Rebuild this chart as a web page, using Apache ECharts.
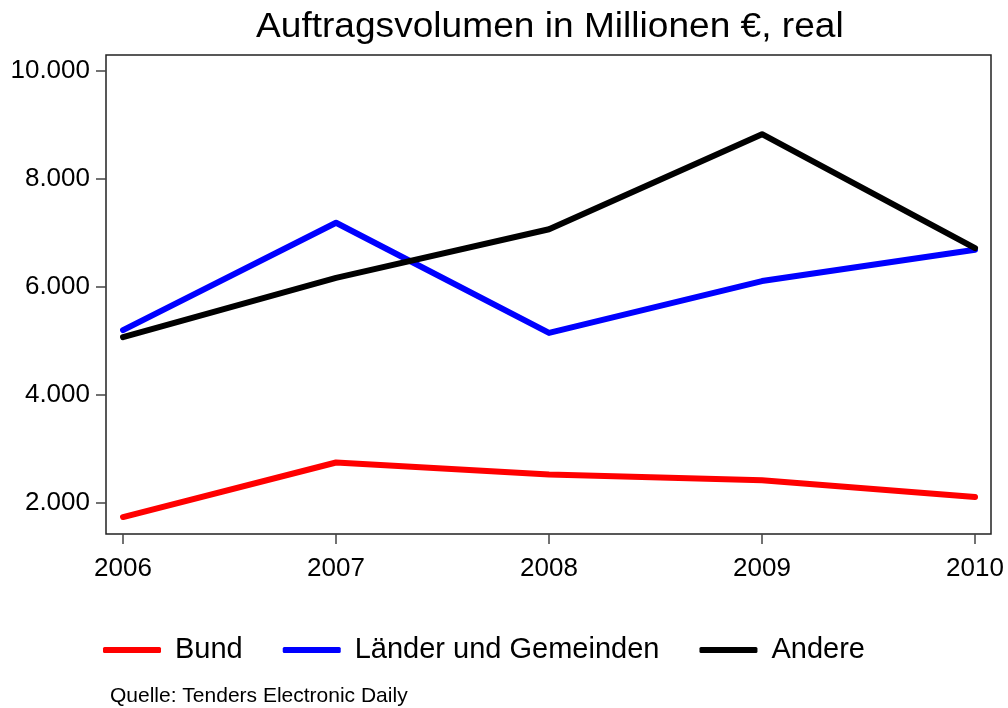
<!DOCTYPE html>
<html>
<head>
<meta charset="utf-8">
<title>Auftragsvolumen</title>
<script src="https://cdn.jsdelivr.net/npm/echarts@6/dist/echarts.min.js"></script>
<style>
	html, body { margin: 0; padding: 0; background: #fff; }
	#chart { width: 1008px; height: 708px; }
</style>
</head>
<body>
<div id="chart"></div>
<script>
// Daten (Millionen €, real)
const years = [2006, 2007, 2008, 2009, 2010];
const bund = [1740, 2750, 2530, 2420, 2110];
const laender = [5200, 7190, 5150, 6110, 6690];
const andere = [5070, 6170, 7070, 8830, 6720];
const yTicks = [2000, 4000, 6000, 8000, 10000];
const seriesNames = ["Bund", "Länder und Gemeinden", "Andere"];
const seriesColors = ["#ff0000", "#0000ff", "#000000"];

const font = "'Liberation Sans', Arial, sans-serif";

// 10000 -> "10.000"
function deNum(v) {
	return String(v).replace(/\B(?=(\d{3})+(?!\d))/g, ".");
}

function pairs(vals) {
	return years.map(function (y, i) { return [y, vals[i]]; });
}

function lineSeries(name, vals, color) {
	return {
		name: name,
		type: "line",
		data: pairs(vals),
		showSymbol: false,
		symbol: "none",
		color: color,
		lineStyle: { width: 6, color: color, cap: "round", join: "round" },
		emphasis: { disabled: true },
		animation: false
	};
}

let myChart = echarts.init(document.getElementById("chart"), null, { renderer: "canvas" });
let option = {
	backgroundColor: "#fff",
	textStyle: { fontFamily: font },
	grid: {
		left: 106,
		right: 17,
		top: 55,
		bottom: 174,
		show: true,
		borderColor: "#222",
		borderWidth: 1.5,
		backgroundColor: "#fff"
	},
	legend: {
		data: seriesNames,
		left: 103,
		top: 635,
		padding: 0,
		icon: "roundRect",
		itemWidth: 58,
		itemHeight: 6,
		itemGap: 40,
		selectedMode: false,
		textStyle: { fontFamily: font, fontSize: 29, color: "#000", lineHeight: 30, padding: [0, 0, 0, 9] }
	},
	xAxis: {
		type: "value",
		min: 2005.92,
		max: 2010.075,
		splitLine: { show: false },
		axisLine: { show: false },
		axisTick: { show: true, inside: false, length: 10, customValues: years, lineStyle: { color: "#444", width: 1.5 } },
		axisLabel: {
			customValues: years,
			margin: 22,
			fontFamily: font,
			fontSize: 26,
			color: "#000",
			formatter: function (v) { return String(v); }
		}
	},
	yAxis: {
		type: "value",
		min: 1426,
		max: 10296,
		splitLine: { show: false },
		axisLine: { show: false },
		axisTick: { show: true, inside: false, length: 10, customValues: yTicks, lineStyle: { color: "#444", width: 1.5 } },
		axisLabel: {
			customValues: yTicks,
			margin: 16,
			fontFamily: font,
			fontSize: 26,
			color: "#000",
			formatter: function (v) { return deNum(v); }
		}
	},
	// Titel im Original leicht breiter gesetzt
	graphic: [{
		type: "text",
		x: 256,
		y: 27,
		scaleX: 1.06,
		style: {
			text: "Auftragsvolumen in Millionen €, real",
			fontFamily: font, fontSize: 35, fill: "#000",
			verticalAlign: "middle"
		}
	}, {
		type: "text",
		x: 110,
		y: 696,
		style: {
			text: "Quelle: Tenders Electronic Daily",
			fontFamily: font, fontSize: 21, fill: "#000",
			verticalAlign: "middle"
		}
	}],
	series: [
		lineSeries(seriesNames[0], bund, seriesColors[0]),
		lineSeries(seriesNames[1], laender, seriesColors[1]),
		lineSeries(seriesNames[2], andere, seriesColors[2])
	]
};
myChart.setOption(option);
</script>
</body>
</html>
